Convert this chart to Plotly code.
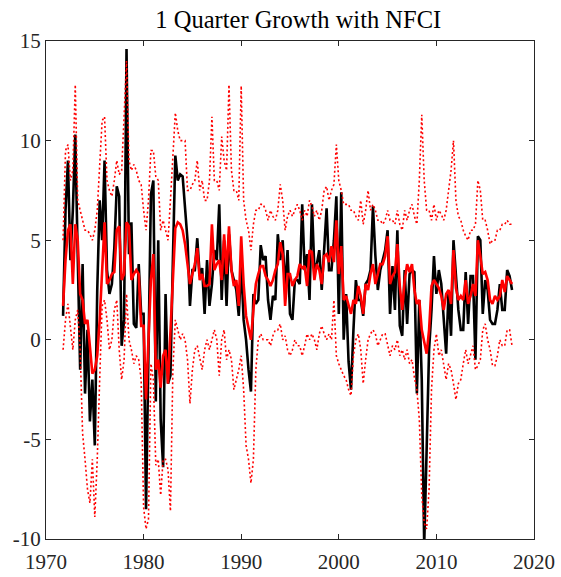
import plotly.graph_objects as go

# Quarterly observations 1971Q4 .. 2017Q4 (one line per year)
actual = [
    1.2,
    6.5, 9.0, 4.0, 6.5,      # 1972
    10.3, 4.2, -1.5, 3.8,    # 1973
    -2.7, 0.5, -4.1, -2.0,   # 1974
    -5.3, 2.5, 7.0, 5.0,     # 1975
    9.0, 3.5, 2.3, 2.8,      # 1976
    4.6, 7.7, 7.2, -0.3,     # 1977
    1.0, 14.6, 4.3, 5.9,     # 1978
    0.8, 0.6, 3.8, 1.3,      # 1979
    1.3, -8.5, -1.5, 7.3,    # 1980
    8.0, -3.1, 5.0, -4.0,    # 1981
    -6.4, 2.3, -2.2, -1.8,   # 1982
    4.0, 9.25, 8.0, 8.3,     # 1983
    8.2, 6.8, 5.0, 1.7,      # 1984
    3.5, 3.5, 5.1, 3.2,      # 1985
    3.6, 1.3, 4.0, 1.7,      # 1986
    2.8, 4.5, 4.0, 6.8,      # 1987
    2.0, 5.0, 1.7, 5.3,      # 1988
    3.5, 3.0, 2.5, 1.2,      # 1989
    3.8, 1.0, 0.0, -1.5,     # 1990
    -2.6, 2.3, 1.8, 2.0,     # 1991
    4.75, 4.0, 4.2, 2.0,     # 1992
    1.0, 2.2, 2.0, 5.3,      # 1993
    4.0, 5.0, 2.5, 4.5,      # 1994
    1.3, 1.0, 3.0, 3.0,      # 1995
    2.8, 6.8, 3.5, 4.3,      # 1996
    2.0, 6.8, 3.5, 3.8,      # 1997
    4.5, 2.5, 4.5, 6.6,      # 1998
    3.5, 3.5, 5.0, 7.2,      # 1999
    1.3, 7.4, 0.0, 2.3,      # 2000
    -1.1, -2.5, 0.5, 3.0,    # 2001
    2.0, 2.0, 1.2, 2.8,      # 2002
    3.0, 3.5, 6.7, 4.2,      # 2003
    2.5, 3.5, 4.0, 4.5,      # 2004
    5.5, 1.3, 3.7, 1.5,      # 2005
    5.5, 0.7, 0.2, 3.5,      # 2006
    0.8, 3.3, 3.5, 3.4,      # 2007
    -2.7, 2.0, -2.0, -10.3,  # 2008
    -5.5, -0.5, 1.5, 4.2,    # 2009
    2.3, 3.5, 2.8, 1.0,      # 2010
    -0.7, 2.5, 0.2, 5.0,     # 2011
    3.0, 1.5, 0.5, 0.5,      # 2012
    3.4, 0.8, 3.2, 3.2,      # 2013
    -1.0, 5.2, 5.0, 1.3,     # 2014
    3.0, 2.5, 1.0, 0.8,      # 2015
    0.8, 1.5, 2.8, 1.5,      # 2016
    1.5, 3.5, 3.2, 2.5,      # 2017
]

median = [
    1.7,
    4.0, 5.5, 5.8, 2.8,      # 1972
    5.8, 5.0, 2.3, 2.0,      # 1973
    0.8, 1.0, -0.5, -1.7,    # 1974
    -1.5, -0.8, 1.0, 3.5,    # 1975
    5.9, 2.8, 3.0, 3.3,      # 1976
    3.4, 5.5, 5.7, 3.0,      # 1977
    3.3, 5.9, 5.7, 3.0,      # 1978
    3.3, 3.5, 3.3, 0.7,      # 1979
    0.7, -3.0, 0.5, 3.0,     # 1980
    4.3, -1.5, -1.0, -2.4,   # 1981
    -0.8, -0.5, -2.2, 0.5,   # 1982
    3.5, 5.6, 5.9, 5.8,      # 1983
    5.5, 4.8, 3.8, 2.8,      # 1984
    3.3, 3.8, 4.6, 3.0,      # 1985
    3.3, 2.7, 2.7, 2.8,      # 1986
    5.8, 3.5, 3.8, 4.0,      # 1987
    3.0, 5.3, 3.3, 5.7,      # 1988
    3.5, 2.7, 3.0, 1.7,      # 1989
    5.2, 2.8, 1.2, 0.5,      # 1990
    0.0, 1.5, 2.8, 3.3,      # 1991
    3.7, 3.7, 3.2, 3.0,      # 1992
    2.7, 3.0, 3.5, 3.8,      # 1993
    4.9, 4.3, 1.7, 3.3,      # 1994
    3.3, 2.7, 3.0, 3.2,      # 1995
    3.8, 3.6, 3.7, 2.7,      # 1996
    4.5, 4.4, 3.0, 3.8,      # 1997
    3.5, 2.8, 4.2, 4.3,      # 1998
    3.9, 4.7, 3.9, 6.0,      # 1999
    3.3, 4.7, 2.0, 2.2,      # 2000
    1.8, 1.3, 2.0, 1.8,      # 2001
    2.7, 2.2, 1.3, 2.8,      # 2002
    2.5, 3.3, 3.8, 2.8,      # 2003
    3.3, 3.8, 3.8, 4.2,      # 2004
    5.2, 2.8, 3.2, 3.4,      # 2005
    4.8, 2.7, 1.5, 3.0,      # 2006
    3.8, 3.4, 3.8, 2.5,      # 2007
    1.8, 2.0, 0.5, -0.2,     # 2008
    -0.7, 0.5, 2.7, 3.0,     # 2009
    2.8, 2.6, 2.2, 1.5,      # 2010
    2.3, 2.5, 1.8, 4.5,      # 2011
    2.6, 2.0, 2.2, 2.0,      # 2012
    3.0, 1.8, 2.2, 2.8,      # 2013
    2.2, 5.0, 4.2, 3.3,      # 2014
    3.4, 3.0, 2.0, 1.8,      # 2015
    2.2, 2.0, 2.2, 3.0,      # 2016
    2.4, 3.2, 3.0, 2.8,      # 2017
]

upper = [
    5.0,
    9.5, 9.8, 8.0, 8.5,      # 1972
    12.8, 7.0, 6.5, 6.0,     # 1973
    5.5, 5.5, 5.3, 5.0,      # 1974
    5.5, 6.5, 9.0, 11.0,     # 1975
    11.2, 8.0, 7.5, 7.2,     # 1976
    8.0, 9.0, 8.3, 8.5,      # 1977
    11.2, 14.0, 9.0, 8.5,    # 1978
    8.8, 8.5, 8.0, 7.8,      # 1979
    6.5, 5.5, 7.0, 9.5,      # 1980
    9.5, 8.2, 8.0, 5.5,      # 1981
    6.0, 5.5, 5.0, 7.0,      # 1982
    9.5, 11.4, 10.5, 10.0,   # 1983
    10.0, 10.0, 7.5, 7.5,    # 1984
    7.8, 8.0, 9.0, 7.5,      # 1985
    8.0, 7.0, 7.0, 8.0,      # 1986
    11.2, 8.0, 8.0, 7.5,     # 1987
    10.2, 9.0, 8.5, 12.8,    # 1988
    8.5, 7.5, 7.5, 7.0,      # 1989
    12.75, 7.0, 6.0, 5.5,    # 1990
    4.5, 5.8, 6.5, 6.5,      # 1991
    6.8, 6.8, 6.5, 6.0,      # 1992
    6.5, 6.2, 6.0, 6.5,      # 1993
    7.8, 7.0, 5.5, 6.2,      # 1994
    6.5, 6.2, 6.5, 6.8,      # 1995
    6.5, 6.0, 6.5, 6.2,      # 1996
    7.0, 6.7, 6.2, 6.5,      # 1997
    6.0, 6.5, 7.5, 7.7,      # 1998
    7.0, 7.5, 7.8, 9.8,      # 1999
    8.0, 7.5, 6.8, 6.8,      # 2000
    6.8, 6.5, 6.5, 6.2,      # 2001
    6.0, 7.0, 5.8, 6.5,      # 2002
    7.5, 6.5, 6.8, 6.5,      # 2003
    6.0, 6.0, 5.8, 6.0,      # 2004
    6.5, 6.0, 6.0, 5.8,      # 2005
    6.5, 5.8, 5.5, 6.5,      # 2006
    6.0, 6.5, 6.8, 6.2,      # 2007
    5.8, 8.0, 11.3, 8.0,     # 2008
    6.5, 6.5, 6.0, 6.8,      # 2009
    6.0, 6.5, 6.3, 6.0,      # 2010
    6.5, 7.5, 8.5, 10.0,     # 2011
    7.0, 6.2, 6.0, 5.5,      # 2012
    5.2, 5.0, 5.5, 5.5,      # 2013
    5.8, 8.0, 7.5, 6.0,      # 2014
    6.0, 5.5, 4.8, 5.0,      # 2015
    5.0, 5.5, 5.5, 5.8,      # 2016
    5.8, 6.0, 5.8, 5.8,      # 2017
]

lower = [
    -0.5,
    1.0, 1.8, 0.5, -0.5,     # 1972
    1.0, 1.5, -0.5, -4.7,    # 1973
    -6.0, -7.5, -8.2, -6.0,  # 1974
    -8.9, -6.0, -2.0, 1.7,   # 1975
    2.0, 1.0, -0.5, 0.0,     # 1976
    1.5, 2.0, -0.5, -2.0,    # 1977
    -1.0, 2.3, 0.0, -0.5,    # 1978
    -1.2, -0.8, -1.0, -2.0,  # 1979
    -8.4, -9.5, -9.0, -1.2,  # 1980
    -2.0, -6.3, -6.0, -7.8,  # 1981
    -6.0, -6.0, -6.5, -8.6,  # 1982
    -1.5, 1.0, 0.5, 0.0,     # 1983
    0.3, 0.0, -1.0, -3.2,    # 1984
    -1.5, -0.5, -0.3, -1.0,  # 1985
    -1.5, -0.5, 0.0, -0.5,   # 1986
    0.0, 0.5, 0.0, -1.8,     # 1987
    0.0, 0.5, -1.0, -0.5,    # 1988
    -1.0, -2.5, -2.0, -1.5,  # 1989
    -0.8, -2.5, -5.3, -6.0,  # 1990
    -7.2, -6.0, -1.5, 0.0,   # 1991
    0.3, 0.0, 0.0, 0.0,      # 1992
    -0.3, 0.2, 0.5, 0.5,     # 1993
    0.8, 0.0, 0.2, -0.5,     # 1994
    -0.8, -0.5, 0.0, -0.3,   # 1995
    -0.3, -0.8, -0.3, 0.3,   # 1996
    0.0, 0.3, 0.0, -0.5,     # 1997
    0.3, 0.7, 0.3, 0.0,      # 1998
    0.3, 0.0, 2.0, -0.8,     # 1999
    -1.2, -1.5, -1.8, -2.0,  # 2000
    -2.5, -2.8, -0.8, 0.0,   # 2001
    0.3, -0.5, -2.2, -1.0,   # 2002
    0.0, 0.3, 0.5, 0.3,      # 2003
    -0.3, 0.0, 0.3, 0.3,     # 2004
    -0.3, -0.8, -0.3, -0.5,  # 2005
    0.0, -0.8, -0.5, -1.0,   # 2006
    -0.5, -1.2, -1.0, -1.9,  # 2007
    -2.5, -4.0, -7.8, -9.2,  # 2008
    -9.5, -7.5, -2.5, -0.5,  # 2009
    0.3, -0.8, -0.5, -1.2,   # 2010
    -2.0, -1.2, -1.5, -2.2,  # 2011
    -3.0, -2.2, -2.0, -1.2,  # 2012
    -0.5, -1.2, -0.8, -0.3,  # 2013
    -1.5, -1.3, -1.0, 0.5,   # 2014
    0.8, 0.0, -0.5, -1.3,    # 2015
    -1.3, -0.8, 0.0, -0.3,   # 2016
    -0.3, 0.5, 0.5, -0.3,    # 2017
]

x_ticks = [1970, 1980, 1990, 2000, 2010, 2020]
y_ticks = [-10, -5, 0, 5, 10, 15]
y_tick_text = ["-10", "-5", "0", "5", "10", "15"]

first_period = 1971.75
dates = [first_period + 0.25 * i for i in range(len(actual))]

FONT = "Liberation Serif, Times New Roman, serif"
AX = "#262626"

fig = go.Figure()
fig.add_trace(go.Scatter(x=dates, y=actual, mode="lines",
                         line=dict(color="black", width=2.6), showlegend=False))
fig.add_trace(go.Scatter(x=dates, y=median, mode="lines",
                         line=dict(color="red", width=2.6), showlegend=False))
fig.add_trace(go.Scatter(x=dates, y=upper, mode="lines",
                         line=dict(color="red", width=1.6, dash="2px,2.5px"), showlegend=False))
fig.add_trace(go.Scatter(x=dates, y=lower, mode="lines",
                         line=dict(color="red", width=1.6, dash="2px,2.5px"), showlegend=False))

fig.update_layout(
    width=561, height=577,
    margin=dict(l=46, r=27, t=41, b=38),
    paper_bgcolor="white", plot_bgcolor="white",
    font=dict(family=FONT, size=21, color=AX),
    hovermode=False,
    title=dict(text="1 Quarter Growth with NFCI", x=290 / 561, xanchor="center",
               xref="paper", yref="container",
               y=1 - 19 / 577, yanchor="middle",
               font=dict(family=FONT, size=24.5, color="black")),
)
fig.update_xaxes(range=[1970, 2020], tickvals=x_ticks, ticktext=[str(v) for v in x_ticks],
                 automargin=False, ticklabelstandoff=4,
                 showgrid=False, zeroline=False, showline=True, linecolor=AX, linewidth=1,
                 mirror="ticks", ticks="inside", ticklen=5, tickcolor=AX,
                 tickfont=dict(family=FONT, size=21, color=AX))
fig.update_yaxes(range=[-10, 15], tickvals=y_ticks, ticktext=y_tick_text,
                 automargin=False,
                 showgrid=False, zeroline=False, showline=True, linecolor=AX, linewidth=1,
                 mirror="ticks", ticks="inside", ticklen=5, tickcolor=AX,
                 tickfont=dict(family=FONT, size=21, color=AX))

fig.write_html(
    "out.html",
    config={"displayModeBar": False, "staticPlot": True},
    post_script="document.body.style.margin='0';document.body.style.padding='0';"
                "document.documentElement.style.overflow='hidden';",
)
